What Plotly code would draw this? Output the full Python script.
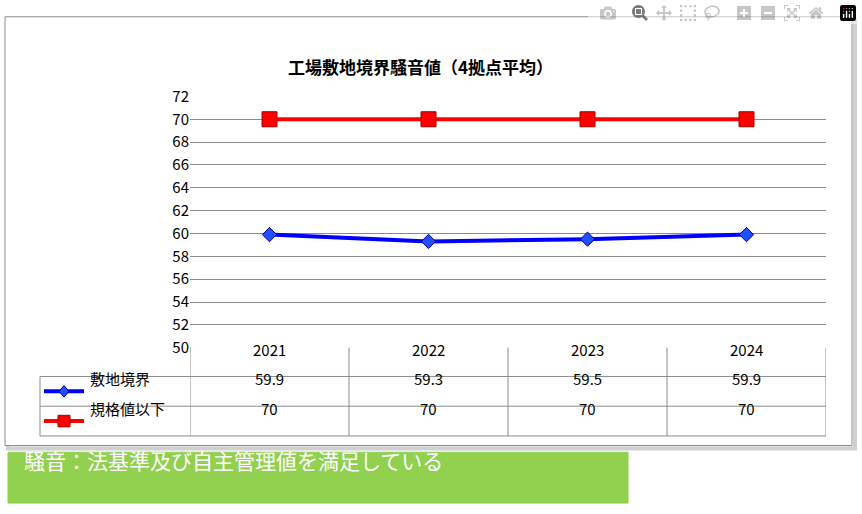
import plotly.graph_objects as go

W, H = 862, 514
years = ["2021", "2022", "2023", "2024"]
boundary = [59.9, 59.3, 59.5, 59.9]
limit = [70, 70, 70, 70]
series_names = ["敷地境界", "規格値以下"]
title = "工場敷地境界騒音値（4拠点平均）"
note = "騒音：法基準及び自主管理値を満足している"

def px(x): return x / W
def py(y): return 1 - y / H

fig = go.Figure()
fig.add_trace(go.Scatter(x=years, y=boundary, mode="lines+markers", name=series_names[0],
                         line=dict(color="#0000ff", width=4),
                         marker=dict(symbol="diamond", size=11, color="#1f4fff", line=dict(color="#00008b", width=1))))
fig.add_trace(go.Scatter(x=years, y=limit, mode="lines+markers", name=series_names[1],
                         line=dict(color="#ff0000", width=4),
                         marker=dict(symbol="square", size=15, color="#ff0000", line=dict(color="#a00000", width=1))))

grey = "#8c8c8c"
shapes = []
# outer chart box with shadow
shapes.append(dict(type="rect", xref="paper", yref="paper", x0=px(8), x1=px(855), y0=py(455), y1=py(8),
                   line=dict(color="#d0d0d0", width=4), layer="below"))
shapes.append(dict(type="rect", xref="paper", yref="paper", x0=px(5), x1=px(852), y0=py(452), y1=py(5),
                   line=dict(color="#8c8c8c", width=1), fillcolor="white", layer="below"))
# table
rows_y = [350, 380, 411, 442]
for y in rows_y[1:]:
    shapes.append(dict(type="line", xref="paper", yref="paper", x0=px(40), x1=px(826), y0=py(y), y1=py(y),
                       line=dict(color=grey, width=1)))
shapes.append(dict(type="line", xref="paper", yref="paper", x0=px(40), x1=px(40), y0=py(380), y1=py(442),
                   line=dict(color=grey, width=1)))
for i in range(5):
    xi = i - 0.5
    shapes.append(dict(type="line", xref="x", yref="paper", x0=xi, x1=xi, y0=py(442), y1=py(350),
                       line=dict(color=grey, width=1)))
# legend keys
for k, (c, sym) in enumerate([("#0000ff", "d"), ("#ff0000", "s")]):
    yc = (rows_y[k + 1] + rows_y[k + 2]) / 2
    shapes.append(dict(type="line", xref="paper", yref="paper", x0=px(44), x1=px(84), y0=py(yc), y1=py(yc),
                       line=dict(color=c, width=4)))
    if sym == "s":
        shapes.append(dict(type="rect", xref="paper", yref="paper", x0=px(58), x1=px(70), y0=py(yc + 6), y1=py(yc - 6),
                           fillcolor=c, line=dict(color="#a00000", width=1)))
    else:
        path = f"M {px(64)},{py(yc-6)} L {px(69)},{py(yc)} L {px(64)},{py(yc+6)} L {px(59)},{py(yc)} Z"
        shapes.append(dict(type="path", xref="paper", yref="paper", path=path, fillcolor="#1f4fff",
                           line=dict(color="#00008b", width=1)))
# green note box
shapes.append(dict(type="rect", xref="paper", yref="paper", x0=px(8), x1=px(628), y0=py(512), y1=py(459),
                   fillcolor="#92d050", line=dict(color="#92d050", width=1)))

font = dict(family="Noto Sans CJK JP", size=15, color="black")
ann = []
ann.append(dict(text="<b>" + title + "</b>", x=px(420), y=py(42), xref="paper", yref="paper",
                showarrow=False, font=dict(family="Noto Sans CJK JP", size=17, color="black")))
for i, yr in enumerate(years):
    ann.append(dict(text=yr, x=i, y=py(365), xref="x", yref="paper", showarrow=False, font=font))
    ann.append(dict(text=f"{boundary[i]:g}", x=i, y=py(395), xref="x", yref="paper", showarrow=False, font=font))
    ann.append(dict(text=f"{limit[i]:g}", x=i, y=py(426), xref="x", yref="paper", showarrow=False, font=font))
for k, name in enumerate(series_names):
    yc = (rows_y[k + 1] + rows_y[k + 2]) / 2
    ann.append(dict(text=name, x=px(88), y=py(yc), xref="paper", yref="paper", xanchor="left",
                    showarrow=False, font=font))
ann.append(dict(text=note, x=px(22), y=py(485), xref="paper", yref="paper", xanchor="left",
                showarrow=False, font=dict(family="Noto Sans CJK JP", size=21, color="white")))

fig.update_layout(
    width=W, height=H, margin=dict(l=0, r=0, t=0, b=0),
    paper_bgcolor="white", plot_bgcolor="rgba(0,0,0,0)", showlegend=False,
    shapes=shapes, annotations=ann,
    xaxis=dict(domain=[px(190), px(826)], range=[-0.5, 3.5], showticklabels=False, showgrid=False,
               zeroline=False, showline=False),
    yaxis=dict(domain=[py(350), py(88)], range=[50, 72], dtick=2, showgrid=True, gridcolor=grey,
               gridwidth=1, zeroline=False, tickfont=font, ticks="", ticklen=0),
)
fig.write_html("out.html",
               post_script="document.body.style.margin='0';document.body.style.overflow='hidden';")
